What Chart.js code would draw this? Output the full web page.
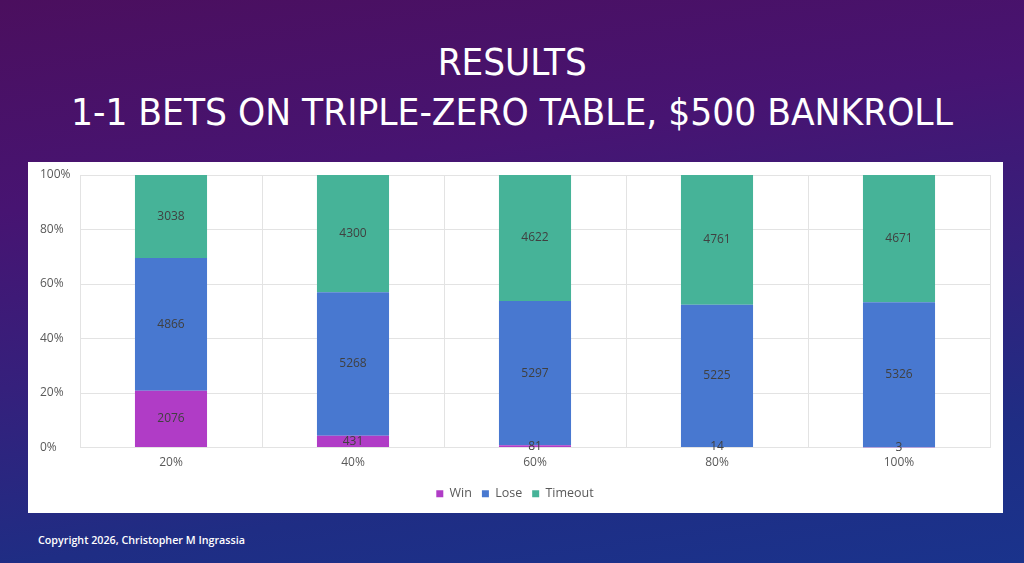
<!DOCTYPE html>
<html>
<head>
<meta charset="utf-8">
<script src="https://cdn.jsdelivr.net/npm/chart.js@4.4.1/dist/chart.umd.min.js"></script>
<style>
  html, body { margin:0; padding:0; }
  body {
    width:1024px; height:563px; overflow:hidden; position:relative;
    background: linear-gradient(172deg, #4b0f5e 0%, #471472 30%, #35207c 55%, #1f2d84 80%, #1a338c 100%);
    font-family: "Open Sans", sans-serif;
  }
  .t { position:absolute; left:0; width:1024px; text-align:center; color:#fff;
       font-family:"Liberation Sans Narrow","DejaVu Sans Condensed","Open Sans",sans-serif; font-size:38px; line-height:1; white-space:nowrap; }
  #t1 { top:43px; }
  #t2 { top:93px; }
  #t2 span, #t1 span { display:inline-block; transform-origin:center; }
  #panel { position:absolute; left:28px; top:162px; width:975px; height:351px; background:#fff; }
  #copy { position:absolute; left:38px; top:532px; color:#fff; font-size:11px; font-weight:600; font-family:"Open Sans",sans-serif; white-space:nowrap; }
  #copy span { display:inline-block; transform-origin:left center; }
</style>
</head>
<body>
<div class="t" id="t1"><span>RESULTS</span></div>
<div class="t" id="t2"><span>1-1 BETS ON TRIPLE-ZERO TABLE, $500 BANKROLL</span></div>
<div id="panel"><canvas id="c" width="975" height="351"></canvas></div>
<div id="copy"><span>Copyright 2026, Christopher M Ingrassia</span></div>
<script>
const categories = ["20%", "40%", "60%", "80%", "100%"];
const winValues = [2076, 431, 81, 14, 3];
const loseValues = [4866, 5268, 5297, 5225, 5326];
const timeoutValues = [3038, 4300, 4622, 4761, 4671];
const yTicks = [0, 20, 40, 60, 80, 100];

// fit text widths
function fit(sel, w) {
  const s = document.querySelector(sel);
  const r = s.getBoundingClientRect().width;
  s.style.transform = 'scaleX(' + (w / r) + ')';
}
fit('#t1 span', 149);
fit('#t2 span', 882);
fit('#copy span', 207);

const totals = categories.map((_, i) => winValues[i] + loseValues[i] + timeoutValues[i]);
const pct = arr => arr.map((v, i) => v / totals[i] * 100);

const labelPlugin = {
  id: 'segLabels',
  afterDatasetsDraw(chart) {
    const ctx = chart.ctx;
    ctx.save();
    ctx.font = '12px "Open Sans", sans-serif';
    ctx.fillStyle = '#404040';
    ctx.textAlign = 'center';
    ctx.textBaseline = 'middle';
    chart.data.datasets.forEach((ds, di) => {
      const meta = chart.getDatasetMeta(di);
      meta.data.forEach((bar, i) => {
        const p = bar.getProps(['x', 'y', 'base'], true);
        const cy = (p.y + p.base) / 2;
        ctx.fillText(String(ds.raw[i]), p.x, cy);
      });
    });
    ctx.restore();
  }
};

new Chart(document.getElementById('c'), {
  type: 'bar',
  data: {
    labels: categories,
    datasets: [
      { label: 'Win', data: pct(winValues), raw: winValues, backgroundColor: '#b03cc6' },
      { label: 'Lose', data: pct(loseValues), raw: loseValues, backgroundColor: '#4878d0' },
      { label: 'Timeout', data: pct(timeoutValues), raw: timeoutValues, backgroundColor: '#46b398' }
    ]
  },
  options: {
    responsive: false,
    animation: false,
    layout: { padding: { left: 12, right: 13, top: 13, bottom: 3 } },
    datasets: { bar: { barPercentage: 0.396, categoryPercentage: 1.0, borderWidth: 0 } },
    scales: {
      x: {
        stacked: true,
        offset: true,
        grid: {
          offset: true, drawTicks: false,
          color: ctx => (ctx.index === categories.length ? 'rgba(0,0,0,0)' : '#e3e3e3')
        },
        border: { display: false },
        ticks: { color: '#595959', font: { size: 12, family: '"Open Sans", sans-serif' }, padding: 8 },
        afterFit(scale) { scale.height = 30; }
      },
      y: {
        stacked: true,
        min: 0, max: 100,
        afterBuildTicks(scale) { scale.ticks = yTicks.map(v => ({ value: v })); },
        grid: { drawTicks: false, color: '#e3e3e3' },
        border: { display: false },
        ticks: {
          color: '#595959', font: { size: 12, family: '"Open Sans", sans-serif' },
          crossAlign: 'far', padding: 0,
          callback: v => v + '%'
        },
        afterFit(scale) { scale.width = 40; }
      }
    },
    plugins: {
      legend: {
        position: 'bottom',
        labels: {
          boxWidth: 7, boxHeight: 7, padding: 10,
          color: '#595959', font: { size: 12.5, family: '"Open Sans", sans-serif' }
        }
      },
      tooltip: { enabled: false }
    }
  },
  plugins: [labelPlugin]
});
</script>
</body>
</html>
